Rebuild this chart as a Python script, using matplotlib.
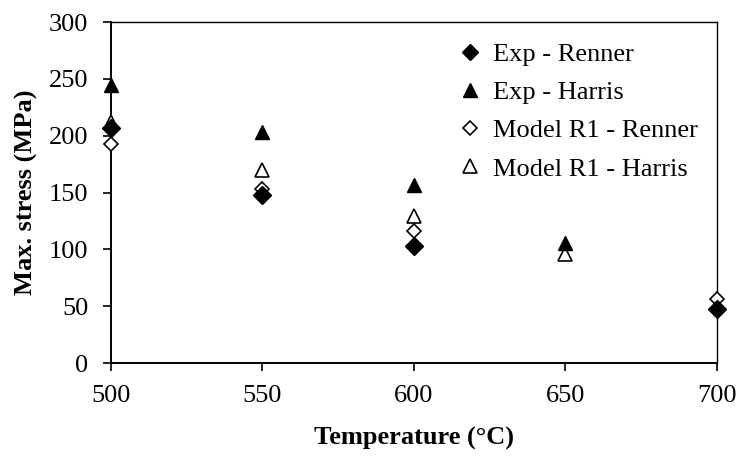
import numpy as np
import matplotlib
matplotlib.use('Agg')
import matplotlib.pyplot as plt

plt.rcParams['font.family'] = ['Liberation Serif', 'DejaVu Serif']

temps_renner = [500, 550, 600, 700]
temps_harris = [500, 550, 600, 650]
exp_renner = [207, 148, 103, 48]
exp_harris = [245, 203, 157, 106]
model_renner = [193, 153, 116, 56]
model_harris = [212, 170, 129, 96]

fig = plt.figure(figsize=(7.43, 4.59), dpi=100)
ax = fig.add_axes([0.149, 0.209, 0.816, 0.743])

ax.plot(temps_renner, exp_renner, 'D', color='black', ms=9, label='Exp - Renner', clip_on=False, zorder=4)
ax.plot(temps_harris, exp_harris, '^', color='black', ms=10.5, label='Exp - Harris', clip_on=False, zorder=4)
ax.plot(temps_renner, model_renner, 'D', mfc='white', mec='black', mew=1.2, ms=7.5,
        label='Model R1 - Renner', clip_on=False, zorder=3)
ax.plot(temps_harris, model_harris, '^', mfc='white', mec='black', mew=1.2, ms=10,
        label='Model R1 - Harris', clip_on=False, zorder=3)

ax.set_xlim(500, 700)
ax.set_ylim(0, 300)
ax.set_xticks(np.arange(500, 701, 50))
ax.set_yticks(np.arange(0, 301, 50))
ax.tick_params(axis='both', direction='out', length=6, width=1.2, labelsize=19)
ax.tick_params(axis='y', pad=10)
ax.tick_params(axis='x', pad=10)

for side in ['left', 'bottom']:
    ax.spines[side].set_linewidth(1.4)
for side in ['top', 'right']:
    ax.spines[side].set_linewidth(1.0)

ax.set_xlabel('Temperature (°C)', fontsize=19, fontweight='bold', labelpad=14)
ax.set_ylabel('Max. stress (MPa)', fontsize=19, fontweight='bold', labelpad=8)

leg = ax.legend(loc='upper left', bbox_to_anchor=(0.571, 0.94), frameon=False, fontsize=19,
                handletextpad=0.35, labelspacing=0.56, handlelength=1.0, borderpad=0,
                borderaxespad=0)
leg.legend_handles[0].set_markersize(8.5)
leg.legend_handles[2].set_markersize(6.7)
leg.legend_handles[3].set_markersize(9.5)

fig.savefig('out.png', dpi=100)
